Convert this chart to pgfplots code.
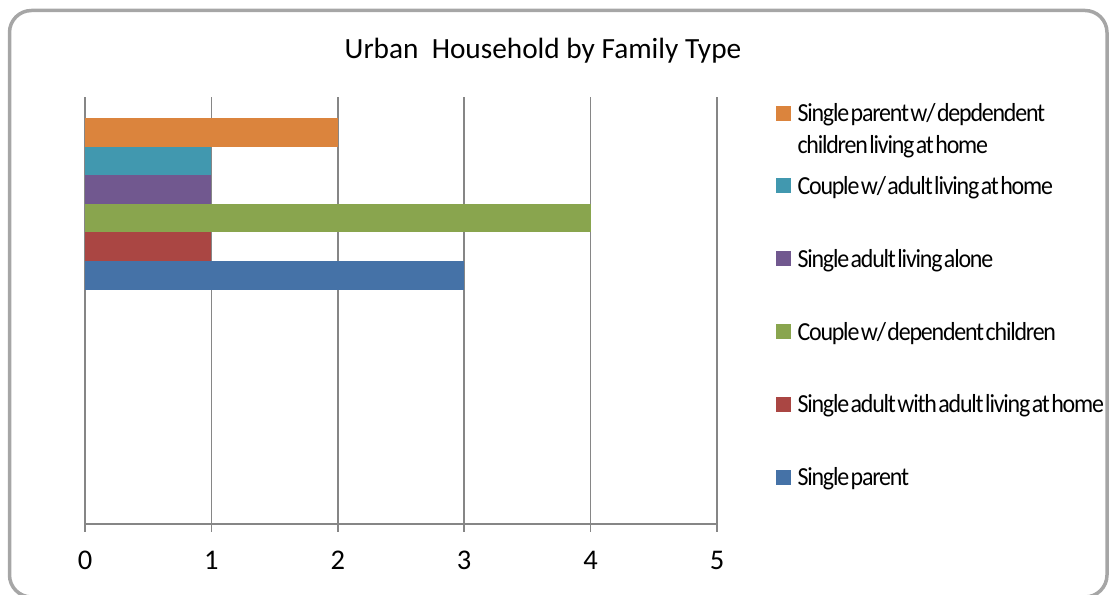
\documentclass[border=0pt]{standalone}
\usepackage{pgfplots}
\pgfplotsset{compat=1.18}
\usepackage{fontspec}
\setmainfont{Carlito}
\newfontfamily\legfont{Carlito}[FakeStretch=0.92,LetterSpace=-4.6,WordSpace=0.35]
\definecolor{cOrange}{HTML}{DB843D}
\definecolor{cTeal}{HTML}{4198AF}
\definecolor{cPurple}{HTML}{71588F}
\definecolor{cGreen}{HTML}{89A54E}
\definecolor{cRed}{HTML}{AA4643}
\definecolor{cBlue}{HTML}{4572A7}
\definecolor{gridc}{HTML}{868686}
\definecolor{framec}{HTML}{A6A6A6}
\begin{document}
\begin{tikzpicture}[x=1bp,y=1bp]
\path[use as bounding box] (0,0) rectangle (1110,595);
\begin{scope}
\clip (0,0) rectangle (1110,595);
\draw[framec, line width=3.5bp, rounded corners=22bp] (9.5,-2) rectangle (1107,584.5);
\end{scope}
\node[anchor=base, font=\fontsize{29.3bp}{34bp}\selectfont] at (543,536.7) {Urban\ \ Household by Family Type};
\begin{axis}[
  at={(85bp,71bp)}, anchor=south west,
  scale only axis, width=632bp, height=427bp,
  xmin=0, xmax=5, ymin=-0.5, ymax=1.5,
  axis x line=bottom, axis y line=none,
  axis line style={-, gridc, line width=1.5bp},
  xtick={0,1,2,3,4,5}, ytick=\empty,
  xmajorgrids, grid style={gridc, line width=1.5bp},
  xtick align=outside, major tick length=8bp,
  tick style={gridc, line width=1.5bp},
  /pgf/number format/assume math mode=true,
  xticklabel style={font=\fontsize{28.5bp}{32bp}\selectfont, text=black, anchor=base, yshift=-38bp},
  xbar, bar width=28.6bp,
  legend image code/.code={\fill[#1,draw=none] (0bp,1bp) rectangle (15bp,16bp);},
  legend cell align=left,
  legend style={at={(axis description cs:1.09335,0.9843)}, anchor=north west,
    draw=none, fill=none, inner sep=0pt, outer sep=0pt,
    row sep=49.8bp, column sep=6.5bp,
    nodes={inner sep=0pt, text height=18bp, text depth=5bp, anchor=base west,
      font=\legfont\fontsize{26bp}{31.6bp}\selectfont}},
]
\addplot[fill=cOrange, draw=none, bar shift=71.5bp] coordinates {(2,1)};
\addlegendentry{\begin{tabular}[t]{@{}l@{}}Single parent w/ depdendent\\children living at home\end{tabular}}
\addplot[fill=cTeal, draw=none, bar shift=42.9bp] coordinates {(1,1)};
\addlegendentry{Couple w/ adult living at home}
\addplot[fill=cPurple, draw=none, bar shift=14.3bp] coordinates {(1,1)};
\addlegendentry{Single adult living alone}
\addplot[fill=cGreen, draw=none, bar shift=-14.3bp] coordinates {(4,1)};
\addlegendentry{Couple w/ dependent children}
\addplot[fill=cRed, draw=none, bar shift=-42.9bp] coordinates {(1,1)};
\addlegendentry{Single adult with adult living at home}
\addplot[fill=cBlue, draw=none, bar shift=-71.5bp] coordinates {(3,1)};
\addlegendentry{Single parent}
\end{axis}
\end{tikzpicture}
\end{document}
